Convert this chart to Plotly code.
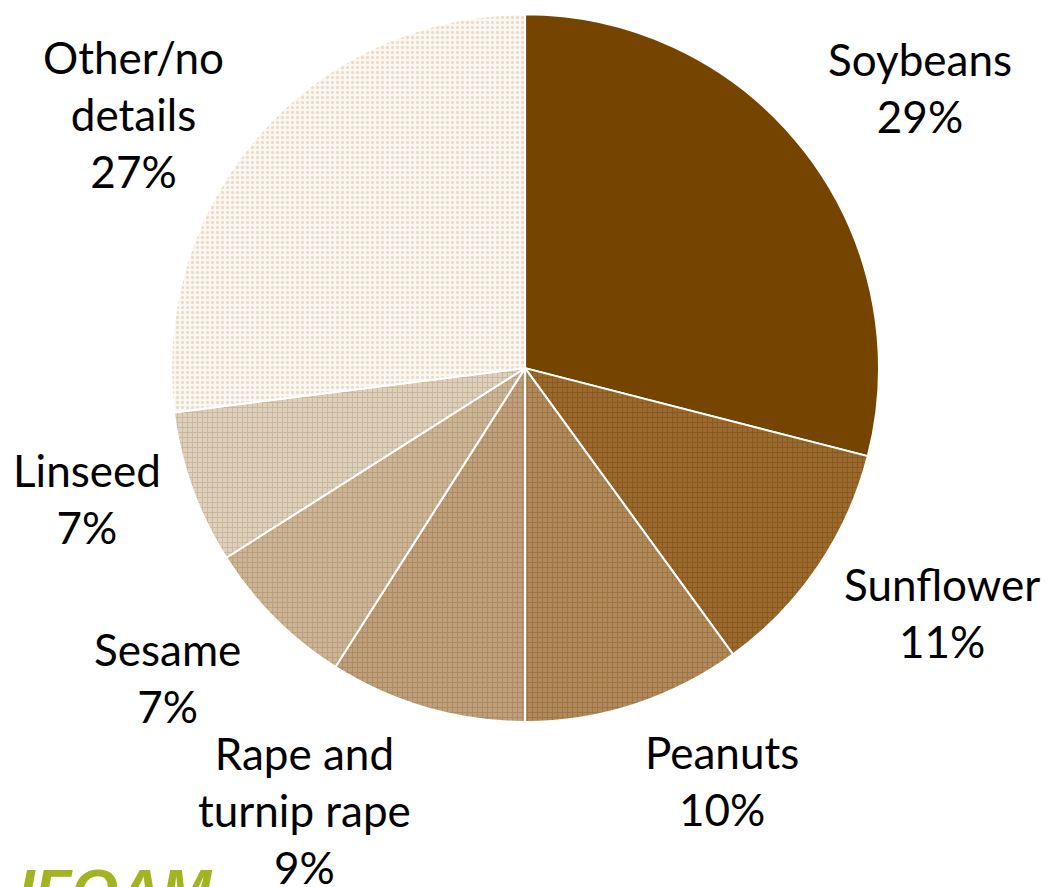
import plotly.graph_objects as go

# Organic oilseed crops: share of area
crops = ["Soybeans", "Sunflower", "Peanuts", "Rape and turnip rape", "Sesame", "Linseed", "Other/no details"]
shares = [29, 11, 10, 9, 7, 7, 27]
label_lines = ["Soybeans", "Sunflower", "Peanuts", "Rape and<br>turnip rape", "Sesame", "Linseed", "Other/no<br>details"]

fill_bg = ["#754500", "#9a6a30", "#b08a5c", "#bea07c", "#ccb596", "#ddd0bd", "#fbf7f2"]
fill_fg = ["#754500", "#7a4a08", "#8a6028", "#9a7448", "#a88a64", "#b89c78", "#d9c3a5"]
shapes = ["", "+", "+", "+", "+", "+", "."]

# label centres in paper coordinates
label_x = [0.878, 0.899, 0.689, 0.291, 0.160, 0.083, 0.127]
label_y = [0.901, 0.309, 0.120, 0.087, 0.236, 0.438, 0.871]

fig = go.Figure(go.Pie(
    labels=crops,
    values=shares,
    sort=False,
    direction="clockwise",
    rotation=0,
    textinfo="none",
    hoverinfo="label+percent",
    marker=dict(
        colors=fill_bg,
        line=dict(color="white", width=2),
        pattern=dict(shape=shapes, fgcolor=fill_fg, bgcolor=fill_bg, size=5, solidity=0.35, fillmode="overlay"),
    ),
    domain=dict(x=[0.163, 0.839], y=[0.186, 0.984]),
    showlegend=False,
))

for name, v, x, y in zip(label_lines, shares, label_x, label_y):
    fig.add_annotation(
        x=x, y=y, xref="paper", yref="paper", xanchor="center", yanchor="middle",
        text=f"{name}<br>{v}%",
        showarrow=False, align="center",
        font=dict(family="Lato, Carlito, sans-serif", size=44, color="#000000"),
    )

# logo text at the bottom edge
fig.add_annotation(
    x=0.015, y=0.036, xref="paper", yref="paper", xanchor="left", yanchor="top",
    text="<b><i>IFOAM</i></b>", showarrow=False,
    font=dict(family="Liberation Sans, Arial, sans-serif", size=60, color="#a3b422"),
)

fig.update_layout(
    width=1048, height=887,
    margin=dict(l=0, r=0, t=0, b=0),
    paper_bgcolor="white", plot_bgcolor="white",
)

fig.write_html("out.html")
